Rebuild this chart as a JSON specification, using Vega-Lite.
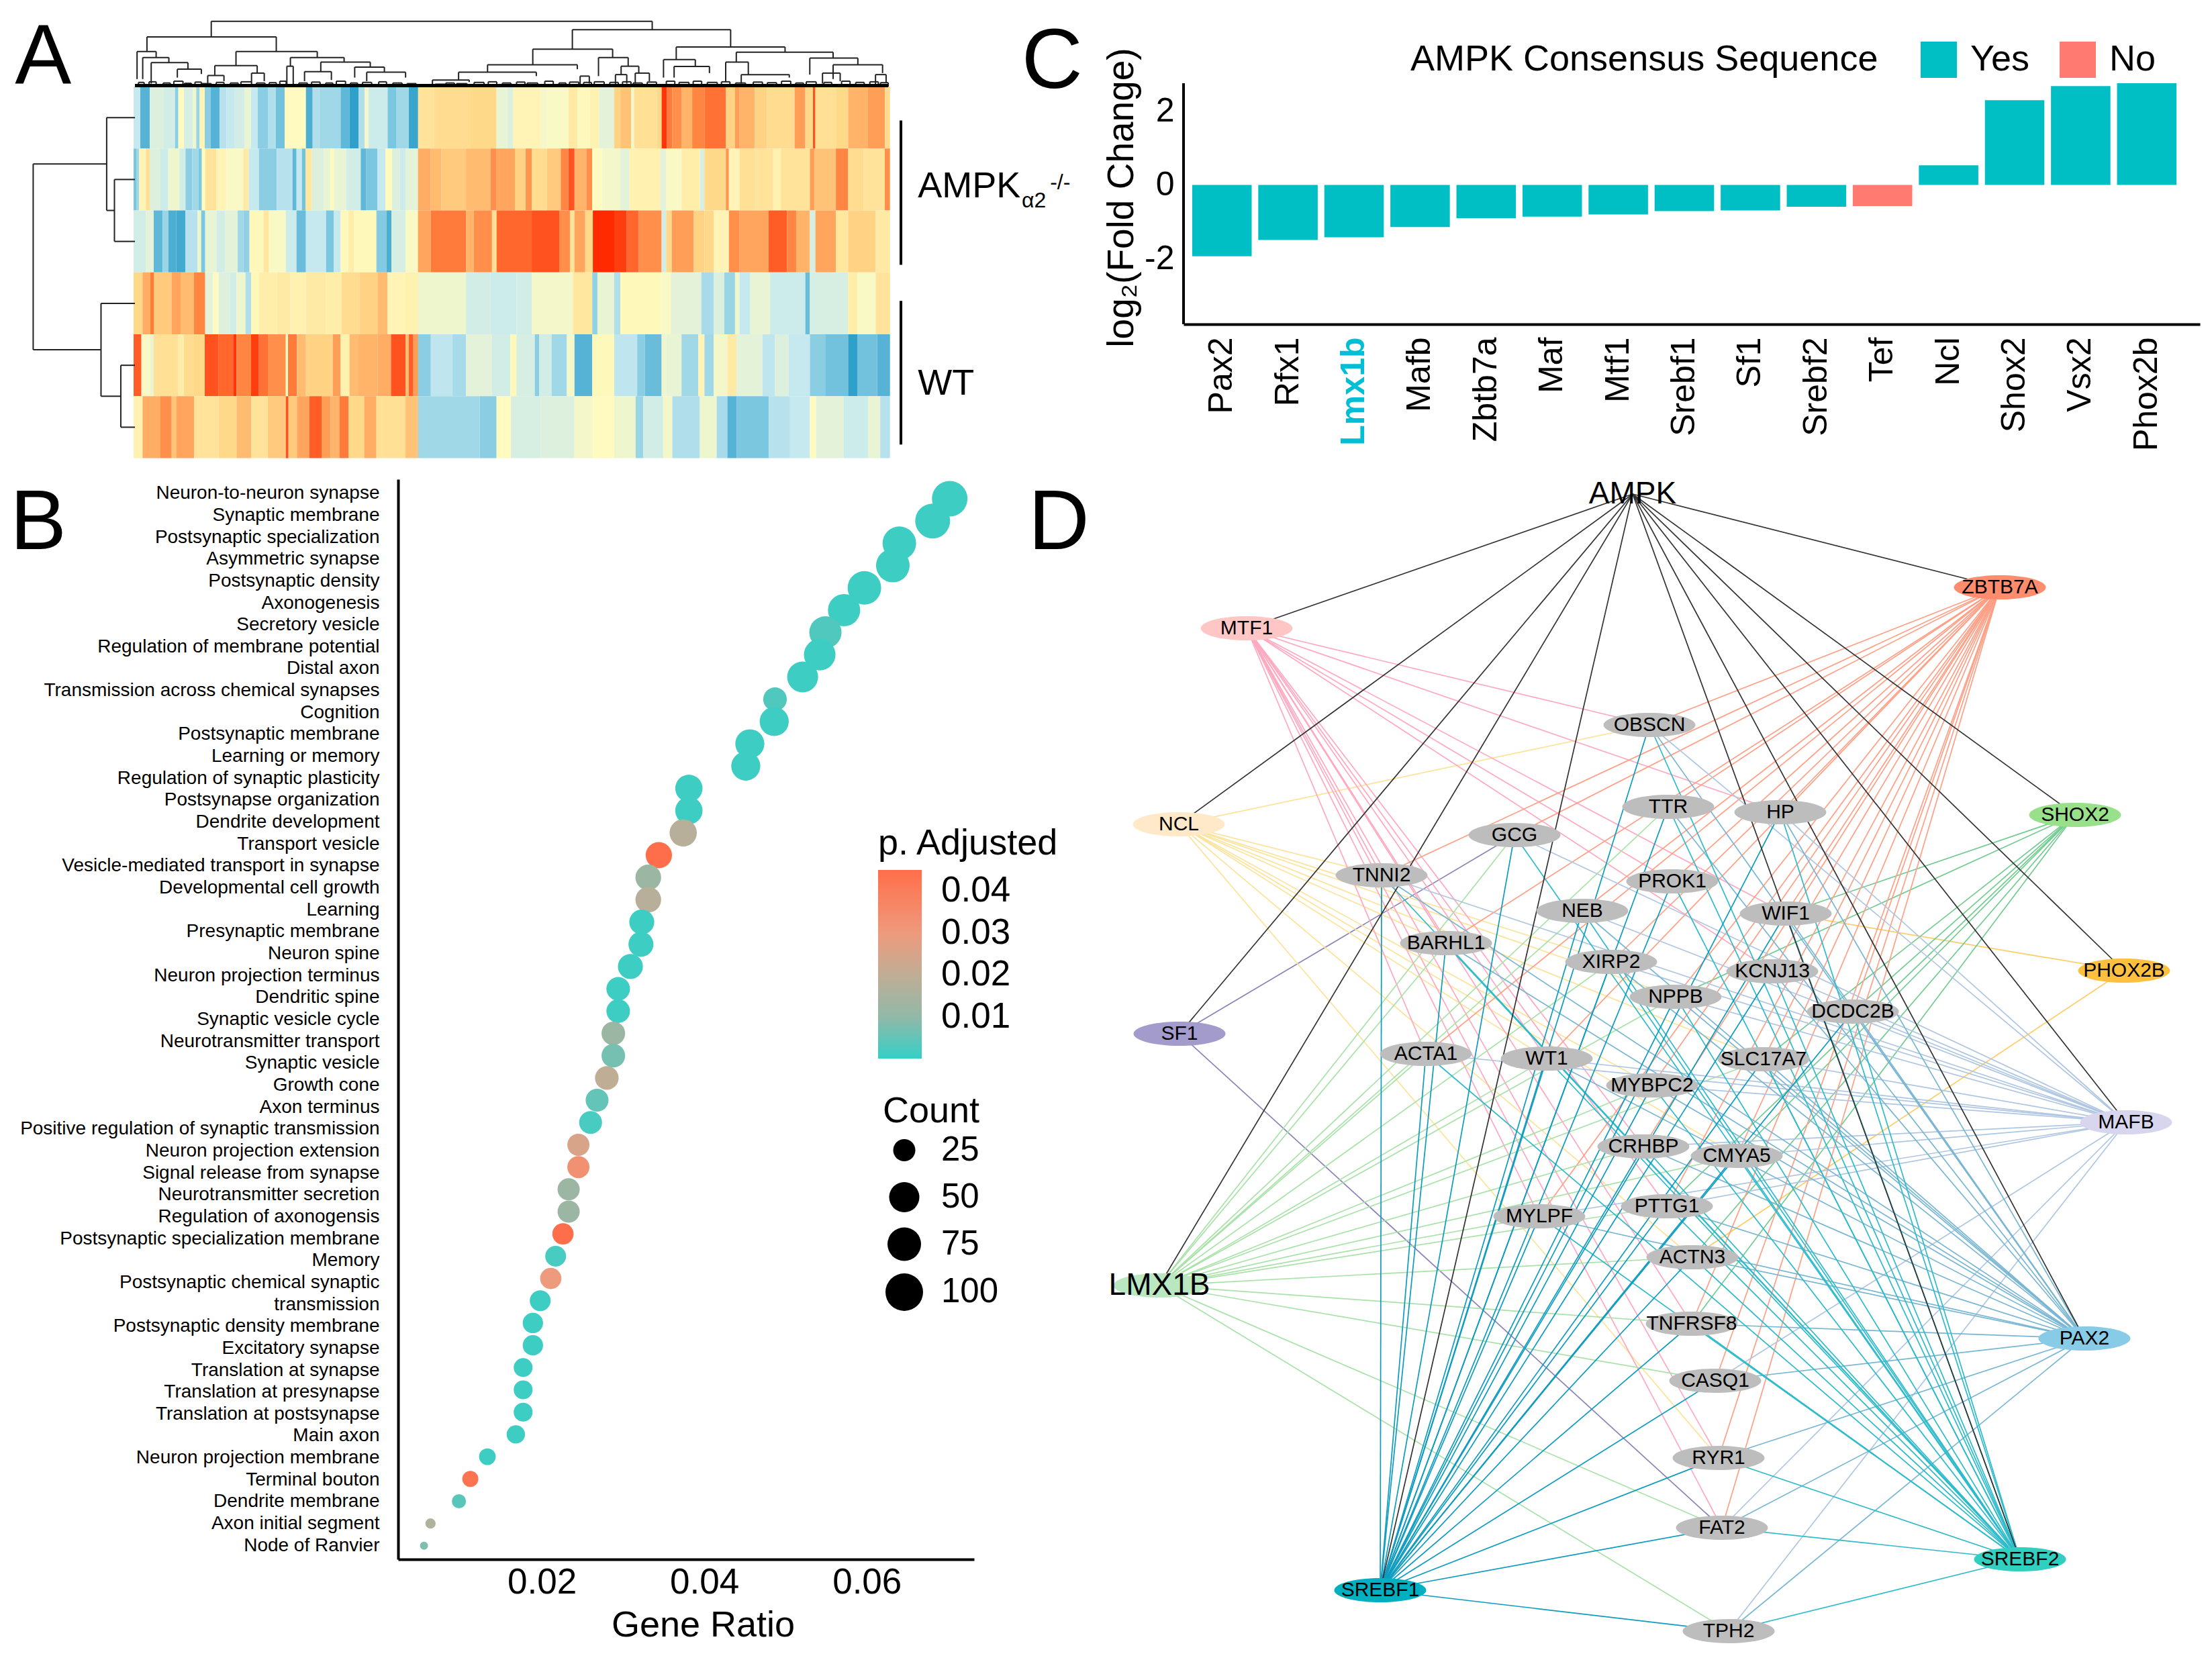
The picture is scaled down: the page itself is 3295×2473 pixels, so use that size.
{"$schema":"https://vega.github.io/schema/vega-lite/v6.json","background":"white","padding":{"left":14,"top":23,"right":0,"bottom":0},"config":{"font":"Liberation Sans","view":{"stroke":null},"axis":{"labelColor":"black","titleColor":"black","domainColor":"black","grid":false,"ticks":false},"legend":{"labelColor":"black","titleColor":"black"}},
"datasets":{
"heat":[
{"r":0,"p":0,"a":0,"b":30,"v":-1},{"r":0,"p":0,"a":30,"b":72,"v":-2.4},{"r":0,"p":0,"a":72,"b":135,"v":-0.6},{"r":0,"p":0,"a":135,"b":185,"v":-0.8},{"r":0,"p":0,"a":185,"b":200,"v":-1.8},{"r":0,"p":0,"a":200,"b":225,"v":0},{"r":0,"p":0,"a":225,"b":265,"v":-0.7},{"r":0,"p":0,"a":265,"b":280,"v":-0.3},{"r":0,"p":0,"a":280,"b":295,"v":-1.6},{"r":0,"p":0,"a":295,"b":318,"v":0.2},{"r":0,"p":0,"a":318,"b":345,"v":-1.8},{"r":0,"p":0,"a":345,"b":385,"v":-2.4},{"r":0,"p":0,"a":385,"b":415,"v":-1.2},{"r":0,"p":0,"a":415,"b":450,"v":-1},{"r":0,"p":0,"a":450,"b":495,"v":-0.8},{"r":0,"p":0,"a":495,"b":525,"v":-0.4},{"r":0,"p":0,"a":525,"b":555,"v":-1},{"r":0,"p":0,"a":555,"b":600,"v":-1.8},{"r":0,"p":0,"a":600,"b":635,"v":-1.3},{"r":0,"p":0,"a":635,"b":675,"v":-2.1},{"r":0,"p":0,"a":675,"b":770,"v":0},{"r":0,"p":0,"a":770,"b":800,"v":-2.5},{"r":0,"p":0,"a":800,"b":830,"v":-1.3},{"r":0,"p":0,"a":830,"b":925,"v":-1.5},{"r":0,"p":0,"a":925,"b":965,"v":-2.3},{"r":0,"p":0,"a":965,"b":1005,"v":-2.8},{"r":0,"p":0,"a":1005,"b":1032,"v":-1.3},{"r":0,"p":0,"a":1032,"b":1050,"v":-0.2},{"r":0,"p":0,"a":1050,"b":1135,"v":-0.9},{"r":0,"p":0,"a":1135,"b":1175,"v":-2},{"r":0,"p":0,"a":1175,"b":1230,"v":-1.5},{"r":0,"p":0,"a":1230,"b":1272,"v":-2.7},
{"r":0,"p":1,"a":8,"b":60,"v":0.7},{"r":0,"p":1,"a":60,"b":180,"v":0.9},{"r":0,"p":1,"a":180,"b":265,"v":1},{"r":0,"p":1,"a":265,"b":300,"v":-0.4},{"r":0,"p":1,"a":300,"b":320,"v":-0.6},{"r":0,"p":1,"a":320,"b":410,"v":0.2},{"r":0,"p":1,"a":410,"b":430,"v":-0.2},{"r":0,"p":1,"a":430,"b":500,"v":-0.1},{"r":0,"p":1,"a":500,"b":530,"v":0.5},{"r":0,"p":1,"a":530,"b":570,"v":0.1},{"r":0,"p":1,"a":570,"b":600,"v":0.3},{"r":0,"p":1,"a":600,"b":650,"v":-0.5},{"r":0,"p":1,"a":650,"b":670,"v":1.1},{"r":0,"p":1,"a":670,"b":705,"v":1.3},{"r":0,"p":1,"a":705,"b":715,"v":-0.2},{"r":0,"p":1,"a":715,"b":790,"v":0.8},{"r":0,"p":1,"a":790,"b":805,"v":1},{"r":0,"p":1,"a":805,"b":822,"v":2.9},{"r":0,"p":1,"a":822,"b":840,"v":2.2},{"r":0,"p":1,"a":840,"b":870,"v":2},{"r":0,"p":1,"a":870,"b":905,"v":1.5},{"r":0,"p":1,"a":905,"b":945,"v":2.1},{"r":0,"p":1,"a":945,"b":1015,"v":2.3},{"r":0,"p":1,"a":1015,"b":1045,"v":1.1},{"r":0,"p":1,"a":1045,"b":1060,"v":1.8},{"r":0,"p":1,"a":1060,"b":1110,"v":1.5},{"r":0,"p":1,"a":1110,"b":1150,"v":1.1},{"r":0,"p":1,"a":1150,"b":1240,"v":0.9},{"r":0,"p":1,"a":1240,"b":1275,"v":1.8},{"r":0,"p":1,"a":1275,"b":1300,"v":1},{"r":0,"p":1,"a":1300,"b":1308,"v":2.6},{"r":0,"p":1,"a":1308,"b":1375,"v":0.8},{"r":0,"p":1,"a":1375,"b":1415,"v":1},{"r":0,"p":1,"a":1415,"b":1480,"v":1.5},{"r":0,"p":1,"a":1480,"b":1535,"v":1.8},{"r":0,"p":1,"a":1535,"b":1552,"v":0.9},
{"r":1,"p":0,"a":0,"b":12,"v":-2},{"r":1,"p":0,"a":12,"b":25,"v":-1.5},{"r":1,"p":0,"a":25,"b":55,"v":0.2},{"r":1,"p":0,"a":55,"b":72,"v":0.8},{"r":1,"p":0,"a":72,"b":120,"v":-0.6},{"r":1,"p":0,"a":120,"b":155,"v":-0.9},{"r":1,"p":0,"a":155,"b":205,"v":-0.3},{"r":1,"p":0,"a":205,"b":232,"v":-0.8},{"r":1,"p":0,"a":232,"b":262,"v":-1.8},{"r":1,"p":0,"a":262,"b":290,"v":-1.5},{"r":1,"p":0,"a":290,"b":305,"v":-2},{"r":1,"p":0,"a":305,"b":320,"v":0},{"r":1,"p":0,"a":320,"b":370,"v":0.7},{"r":1,"p":0,"a":370,"b":415,"v":0.2},{"r":1,"p":0,"a":415,"b":490,"v":-0.1},{"r":1,"p":0,"a":490,"b":515,"v":0.5},{"r":1,"p":0,"a":515,"b":560,"v":-1},{"r":1,"p":0,"a":560,"b":640,"v":-1.8},{"r":1,"p":0,"a":640,"b":710,"v":-1.2},{"r":1,"p":0,"a":710,"b":728,"v":-2.3},{"r":1,"p":0,"a":728,"b":752,"v":-1},{"r":1,"p":0,"a":752,"b":768,"v":-2.1},{"r":1,"p":0,"a":768,"b":797,"v":0.6},{"r":1,"p":0,"a":797,"b":850,"v":-0.6},{"r":1,"p":0,"a":850,"b":880,"v":-0.4},{"r":1,"p":0,"a":880,"b":895,"v":0.1},{"r":1,"p":0,"a":895,"b":950,"v":-0.4},{"r":1,"p":0,"a":950,"b":1015,"v":-0.8},{"r":1,"p":0,"a":1015,"b":1040,"v":-2.3},{"r":1,"p":0,"a":1040,"b":1090,"v":-2},{"r":1,"p":0,"a":1090,"b":1125,"v":-1},{"r":1,"p":0,"a":1125,"b":1155,"v":0},{"r":1,"p":0,"a":1155,"b":1190,"v":-0.6},{"r":1,"p":0,"a":1190,"b":1215,"v":-0.9},{"r":1,"p":0,"a":1215,"b":1272,"v":-0.5},
{"r":1,"p":1,"a":8,"b":50,"v":1.6},{"r":1,"p":1,"a":50,"b":85,"v":1.4},{"r":1,"p":1,"a":85,"b":165,"v":1.2},{"r":1,"p":1,"a":165,"b":245,"v":1.4},{"r":1,"p":1,"a":245,"b":265,"v":2},{"r":1,"p":1,"a":265,"b":325,"v":1.7},{"r":1,"p":1,"a":325,"b":360,"v":1.1},{"r":1,"p":1,"a":360,"b":380,"v":1.9},{"r":1,"p":1,"a":380,"b":430,"v":0.9},{"r":1,"p":1,"a":430,"b":475,"v":1.2},{"r":1,"p":1,"a":475,"b":500,"v":2.1},{"r":1,"p":1,"a":500,"b":520,"v":2.6},{"r":1,"p":1,"a":520,"b":560,"v":1.5},{"r":1,"p":1,"a":560,"b":578,"v":2},{"r":1,"p":1,"a":578,"b":610,"v":0},{"r":1,"p":1,"a":610,"b":670,"v":-0.2},{"r":1,"p":1,"a":670,"b":700,"v":-0.5},{"r":1,"p":1,"a":700,"b":800,"v":0.3},{"r":1,"p":1,"a":800,"b":820,"v":-0.5},{"r":1,"p":1,"a":820,"b":870,"v":-0.1},{"r":1,"p":1,"a":870,"b":930,"v":0.4},{"r":1,"p":1,"a":930,"b":945,"v":-0.7},{"r":1,"p":1,"a":945,"b":1015,"v":1},{"r":1,"p":1,"a":1015,"b":1025,"v":1.9},{"r":1,"p":1,"a":1025,"b":1060,"v":0.2},{"r":1,"p":1,"a":1060,"b":1110,"v":0.8},{"r":1,"p":1,"a":1110,"b":1170,"v":0.7},{"r":1,"p":1,"a":1170,"b":1195,"v":0.3},{"r":1,"p":1,"a":1195,"b":1290,"v":0.7},{"r":1,"p":1,"a":1290,"b":1305,"v":1.8},{"r":1,"p":1,"a":1305,"b":1375,"v":1.3},{"r":1,"p":1,"a":1375,"b":1415,"v":2.1},{"r":1,"p":1,"a":1415,"b":1465,"v":0.9},{"r":1,"p":1,"a":1465,"b":1535,"v":0.7},{"r":1,"p":1,"a":1535,"b":1552,"v":2},
{"r":2,"p":0,"a":0,"b":55,"v":-0.8},{"r":2,"p":0,"a":55,"b":90,"v":-0.5},{"r":2,"p":0,"a":90,"b":130,"v":-2.3},{"r":2,"p":0,"a":130,"b":155,"v":-1.6},{"r":2,"p":0,"a":155,"b":190,"v":-2.5},{"r":2,"p":0,"a":190,"b":232,"v":-2.6},{"r":2,"p":0,"a":232,"b":285,"v":-1.2},{"r":2,"p":0,"a":285,"b":302,"v":-0.3},{"r":2,"p":0,"a":302,"b":320,"v":-2},{"r":2,"p":0,"a":320,"b":370,"v":-0.4},{"r":2,"p":0,"a":370,"b":410,"v":-0.8},{"r":2,"p":0,"a":410,"b":465,"v":-0.5},{"r":2,"p":0,"a":465,"b":490,"v":-1.5},{"r":2,"p":0,"a":490,"b":518,"v":-1.7},{"r":2,"p":0,"a":518,"b":580,"v":0.1},{"r":2,"p":0,"a":580,"b":605,"v":0.6},{"r":2,"p":0,"a":605,"b":680,"v":-0.1},{"r":2,"p":0,"a":680,"b":728,"v":-0.9},{"r":2,"p":0,"a":728,"b":770,"v":-2.2},{"r":2,"p":0,"a":770,"b":860,"v":-1},{"r":2,"p":0,"a":860,"b":895,"v":-2},{"r":2,"p":0,"a":895,"b":925,"v":-1},{"r":2,"p":0,"a":925,"b":960,"v":0.1},{"r":2,"p":0,"a":960,"b":985,"v":0.4},{"r":2,"p":0,"a":985,"b":1085,"v":0.1},{"r":2,"p":0,"a":1085,"b":1130,"v":-1.9},{"r":2,"p":0,"a":1130,"b":1152,"v":-2.5},{"r":2,"p":0,"a":1152,"b":1215,"v":-0.7},{"r":2,"p":0,"a":1215,"b":1272,"v":-0.1},
{"r":2,"p":1,"a":8,"b":50,"v":1.7},{"r":2,"p":1,"a":50,"b":165,"v":2.2},{"r":2,"p":1,"a":165,"b":190,"v":1.5},{"r":2,"p":1,"a":190,"b":250,"v":2},{"r":2,"p":1,"a":250,"b":265,"v":0.8},{"r":2,"p":1,"a":265,"b":380,"v":2.4},{"r":2,"p":1,"a":380,"b":470,"v":2.6},{"r":2,"p":1,"a":470,"b":505,"v":2},{"r":2,"p":1,"a":505,"b":520,"v":0.7},{"r":2,"p":1,"a":520,"b":555,"v":1.7},{"r":2,"p":1,"a":555,"b":580,"v":1},{"r":2,"p":1,"a":580,"b":650,"v":3},{"r":2,"p":1,"a":650,"b":690,"v":2.8},{"r":2,"p":1,"a":690,"b":730,"v":2.4},{"r":2,"p":1,"a":730,"b":805,"v":2},{"r":2,"p":1,"a":805,"b":820,"v":-0.8},{"r":2,"p":1,"a":820,"b":838,"v":1},{"r":2,"p":1,"a":838,"b":910,"v":1.8},{"r":2,"p":1,"a":910,"b":945,"v":1.1},{"r":2,"p":1,"a":945,"b":975,"v":1},{"r":2,"p":1,"a":975,"b":1025,"v":0.2},{"r":2,"p":1,"a":1025,"b":1060,"v":2},{"r":2,"p":1,"a":1060,"b":1155,"v":1.7},{"r":2,"p":1,"a":1155,"b":1215,"v":2.5},{"r":2,"p":1,"a":1215,"b":1245,"v":2.1},{"r":2,"p":1,"a":1245,"b":1290,"v":1.5},{"r":2,"p":1,"a":1290,"b":1308,"v":-0.7},{"r":2,"p":1,"a":1308,"b":1375,"v":1.7},{"r":2,"p":1,"a":1375,"b":1415,"v":0.6},{"r":2,"p":1,"a":1415,"b":1505,"v":1.1},{"r":2,"p":1,"a":1505,"b":1552,"v":0.5},
{"r":3,"p":0,"a":0,"b":40,"v":1},{"r":3,"p":0,"a":40,"b":75,"v":1.6},{"r":3,"p":0,"a":75,"b":90,"v":2.2},{"r":3,"p":0,"a":90,"b":170,"v":1.2},{"r":3,"p":0,"a":170,"b":210,"v":1.7},{"r":3,"p":0,"a":210,"b":270,"v":1.4},{"r":3,"p":0,"a":270,"b":320,"v":2.1},{"r":3,"p":0,"a":320,"b":355,"v":-0.5},{"r":3,"p":0,"a":355,"b":380,"v":0},{"r":3,"p":0,"a":380,"b":430,"v":-0.6},{"r":3,"p":0,"a":430,"b":460,"v":-0.8},{"r":3,"p":0,"a":460,"b":500,"v":-0.3},{"r":3,"p":0,"a":500,"b":525,"v":-1.3},{"r":3,"p":0,"a":525,"b":560,"v":0.1},{"r":3,"p":0,"a":560,"b":640,"v":0.4},{"r":3,"p":0,"a":640,"b":700,"v":0.5},{"r":3,"p":0,"a":700,"b":770,"v":0.3},{"r":3,"p":0,"a":770,"b":860,"v":0.5},{"r":3,"p":0,"a":860,"b":930,"v":0.4},{"r":3,"p":0,"a":930,"b":1010,"v":0.9},{"r":3,"p":0,"a":1010,"b":1090,"v":1.1},{"r":3,"p":0,"a":1090,"b":1135,"v":1.4},{"r":3,"p":0,"a":1135,"b":1215,"v":0.2},{"r":3,"p":0,"a":1215,"b":1272,"v":0.3},
{"r":3,"p":1,"a":8,"b":165,"v":-0.3},{"r":3,"p":1,"a":165,"b":245,"v":-0.8},{"r":3,"p":1,"a":245,"b":330,"v":-0.9},{"r":3,"p":1,"a":330,"b":380,"v":-0.8},{"r":3,"p":1,"a":380,"b":515,"v":-0.2},{"r":3,"p":1,"a":515,"b":578,"v":0.6},{"r":3,"p":1,"a":578,"b":595,"v":-1.7},{"r":3,"p":1,"a":595,"b":650,"v":-0.4},{"r":3,"p":1,"a":650,"b":670,"v":-1.3},{"r":3,"p":1,"a":670,"b":805,"v":0.1},{"r":3,"p":1,"a":805,"b":835,"v":-0.1},{"r":3,"p":1,"a":835,"b":935,"v":-0.5},{"r":3,"p":1,"a":935,"b":975,"v":-1.4},{"r":3,"p":1,"a":975,"b":1010,"v":-0.6},{"r":3,"p":1,"a":1010,"b":1045,"v":-1.6},{"r":3,"p":1,"a":1045,"b":1060,"v":-0.3},{"r":3,"p":1,"a":1060,"b":1095,"v":-1},{"r":3,"p":1,"a":1095,"b":1160,"v":-0.4},{"r":3,"p":1,"a":1160,"b":1275,"v":-0.9},{"r":3,"p":1,"a":1275,"b":1290,"v":-2.2},{"r":3,"p":1,"a":1290,"b":1415,"v":-0.7},{"r":3,"p":1,"a":1415,"b":1445,"v":0.4},{"r":3,"p":1,"a":1445,"b":1505,"v":-0.1},{"r":3,"p":1,"a":1505,"b":1552,"v":0.7},
{"r":4,"p":0,"a":0,"b":35,"v":2.5},{"r":4,"p":0,"a":35,"b":75,"v":-0.1},{"r":4,"p":0,"a":75,"b":90,"v":-0.4},{"r":4,"p":0,"a":90,"b":200,"v":0.8},{"r":4,"p":0,"a":200,"b":225,"v":0.4},{"r":4,"p":0,"a":225,"b":270,"v":0.9},{"r":4,"p":0,"a":270,"b":318,"v":1},{"r":4,"p":0,"a":318,"b":380,"v":2.6},{"r":4,"p":0,"a":380,"b":445,"v":2.4},{"r":4,"p":0,"a":445,"b":460,"v":2.9},{"r":4,"p":0,"a":460,"b":525,"v":2.1},{"r":4,"p":0,"a":525,"b":560,"v":2.8},{"r":4,"p":0,"a":560,"b":600,"v":2.3},{"r":4,"p":0,"a":600,"b":680,"v":2},{"r":4,"p":0,"a":680,"b":690,"v":0},{"r":4,"p":0,"a":690,"b":730,"v":2.2},{"r":4,"p":0,"a":730,"b":770,"v":1.4},{"r":4,"p":0,"a":770,"b":890,"v":1.1},{"r":4,"p":0,"a":890,"b":925,"v":1.8},{"r":4,"p":0,"a":925,"b":965,"v":0.3},{"r":4,"p":0,"a":965,"b":1005,"v":1.4},{"r":4,"p":0,"a":1005,"b":1090,"v":1.5},{"r":4,"p":0,"a":1090,"b":1150,"v":1.6},{"r":4,"p":0,"a":1150,"b":1215,"v":2.6},{"r":4,"p":0,"a":1215,"b":1230,"v":1.4},{"r":4,"p":0,"a":1230,"b":1250,"v":2.5},{"r":4,"p":0,"a":1250,"b":1272,"v":1.8},
{"r":4,"p":1,"a":8,"b":50,"v":-1.8},{"r":4,"p":1,"a":50,"b":120,"v":-1.1},{"r":4,"p":1,"a":120,"b":165,"v":-1.4},{"r":4,"p":1,"a":165,"b":250,"v":-0.5},{"r":4,"p":1,"a":250,"b":310,"v":-0.8},{"r":4,"p":1,"a":310,"b":330,"v":0.1},{"r":4,"p":1,"a":330,"b":390,"v":-0.7},{"r":4,"p":1,"a":390,"b":405,"v":-1.8},{"r":4,"p":1,"a":405,"b":445,"v":-0.8},{"r":4,"p":1,"a":445,"b":495,"v":-1.5},{"r":4,"p":1,"a":495,"b":520,"v":-0.2},{"r":4,"p":1,"a":520,"b":578,"v":-2.4},{"r":4,"p":1,"a":578,"b":650,"v":0.1},{"r":4,"p":1,"a":650,"b":725,"v":-1.1},{"r":4,"p":1,"a":725,"b":750,"v":-1.8},{"r":4,"p":1,"a":750,"b":805,"v":-2.2},{"r":4,"p":1,"a":805,"b":820,"v":-0.3},{"r":4,"p":1,"a":820,"b":870,"v":-0.4},{"r":4,"p":1,"a":870,"b":925,"v":-1.5},{"r":4,"p":1,"a":925,"b":945,"v":0.2},{"r":4,"p":1,"a":945,"b":975,"v":-1.5},{"r":4,"p":1,"a":975,"b":1020,"v":-0.2},{"r":4,"p":1,"a":1020,"b":1050,"v":0.5},{"r":4,"p":1,"a":1050,"b":1135,"v":-0.5},{"r":4,"p":1,"a":1135,"b":1175,"v":-1.1},{"r":4,"p":1,"a":1175,"b":1220,"v":-0.6},{"r":4,"p":1,"a":1220,"b":1290,"v":-1},{"r":4,"p":1,"a":1290,"b":1340,"v":-1.8},{"r":4,"p":1,"a":1340,"b":1415,"v":-2.1},{"r":4,"p":1,"a":1415,"b":1445,"v":-2.8},{"r":4,"p":1,"a":1445,"b":1510,"v":-2.1},{"r":4,"p":1,"a":1510,"b":1552,"v":-2.4},
{"r":5,"p":0,"a":0,"b":40,"v":0.3},{"r":5,"p":0,"a":40,"b":120,"v":1.6},{"r":5,"p":0,"a":120,"b":170,"v":2},{"r":5,"p":0,"a":170,"b":190,"v":1.3},{"r":5,"p":0,"a":190,"b":270,"v":1.7},{"r":5,"p":0,"a":270,"b":380,"v":0.7},{"r":5,"p":0,"a":380,"b":460,"v":1},{"r":5,"p":0,"a":460,"b":525,"v":1.4},{"r":5,"p":0,"a":525,"b":600,"v":0.7},{"r":5,"p":0,"a":600,"b":680,"v":1.2},{"r":5,"p":0,"a":680,"b":692,"v":2.6},{"r":5,"p":0,"a":692,"b":730,"v":1.2},{"r":5,"p":0,"a":730,"b":785,"v":1.7},{"r":5,"p":0,"a":785,"b":840,"v":2.5},{"r":5,"p":0,"a":840,"b":880,"v":1.8},{"r":5,"p":0,"a":880,"b":920,"v":1.5},{"r":5,"p":0,"a":920,"b":960,"v":2.2},{"r":5,"p":0,"a":960,"b":1030,"v":1},{"r":5,"p":0,"a":1030,"b":1085,"v":1.6},{"r":5,"p":0,"a":1085,"b":1215,"v":0.8},{"r":5,"p":0,"a":1215,"b":1272,"v":1.3},
{"r":5,"p":1,"a":8,"b":210,"v":-1.5},{"r":5,"p":1,"a":210,"b":265,"v":-1.8},{"r":5,"p":1,"a":265,"b":312,"v":0},{"r":5,"p":1,"a":312,"b":410,"v":-0.7},{"r":5,"p":1,"a":410,"b":520,"v":-0.6},{"r":5,"p":1,"a":520,"b":580,"v":-0.2},{"r":5,"p":1,"a":580,"b":650,"v":0},{"r":5,"p":1,"a":650,"b":720,"v":-0.3},{"r":5,"p":1,"a":720,"b":745,"v":-1.6},{"r":5,"p":1,"a":745,"b":810,"v":-0.8},{"r":5,"p":1,"a":810,"b":840,"v":-0.2},{"r":5,"p":1,"a":840,"b":930,"v":-1.3},{"r":5,"p":1,"a":930,"b":985,"v":-0.3},{"r":5,"p":1,"a":985,"b":1020,"v":-1.4},{"r":5,"p":1,"a":1020,"b":1050,"v":-2.4},{"r":5,"p":1,"a":1050,"b":1155,"v":-2},{"r":5,"p":1,"a":1155,"b":1225,"v":-1.2},{"r":5,"p":1,"a":1225,"b":1290,"v":-1},{"r":5,"p":1,"a":1290,"b":1310,"v":0},{"r":5,"p":1,"a":1310,"b":1400,"v":-0.5},{"r":5,"p":1,"a":1400,"b":1480,"v":-0.9},{"r":5,"p":1,"a":1480,"b":1520,"v":-0.4},{"r":5,"p":1,"a":1520,"b":1552,"v":-1.2}
],
"colTree":[
{"a":108,"b":732,"t":218,"ba":166,"bb":190},{"a":17,"b":200,"t":166,"ba":117,"bb":117},{"a":3,"b":30,"t":117,"ba":25,"bb":97},{"a":11,"b":48,"t":97,"ba":25,"bb":80},{"a":23,"b":75,"t":80,"ba":10,"bb":58},{"a":60,"b":94,"t":58,"ba":30,"bb":42},{"a":143,"b":258,"t":117,"ba":70,"bb":97},{"a":113,"b":173,"t":70,"ba":37,"bb":45},{"a":103,"b":126,"t":37,"ba":8,"bb":18},{"a":165,"b":183,"t":45,"ba":15,"bb":18},{"a":220,"b":296,"t":97,"ba":68,"bb":82},{"a":215,"b":224,"t":68,"ba":8,"bb":8},{"a":263,"b":333,"t":82,"ba":50,"bb":65},{"a":240,"b":278,"t":50,"ba":18,"bb":22},{"a":311,"b":353,"t":65,"ba":30,"bb":48},{"a":328,"b":383,"t":48,"ba":18,"bb":30},
{"a":619,"b":843,"t":190,"ba":125,"bb":132},{"a":563,"b":676,"t":125,"ba":73,"bb":97},{"a":499,"b":626,"t":73,"ba":48,"bb":58},{"a":458,"b":568,"t":48,"ba":22,"bb":35},{"a":421,"b":473,"t":22,"ba":8,"bb":15},{"a":656,"b":698,"t":97,"ba":35,"bb":68},{"a":630,"b":643,"t":35,"ba":8,"bb":10},{"a":688,"b":713,"t":68,"ba":40,"bb":45},{"a":680,"b":696,"t":40,"ba":8,"bb":10},{"a":708,"b":728,"t":45,"ba":10,"bb":18},{"a":766,"b":920,"t":132,"ba":90,"bb":115},{"a":851,"b":988,"t":115,"ba":82,"bb":95},{"a":955,"b":1023,"t":95,"ba":40,"bb":73},{"a":988,"b":1058,"t":73,"ba":25,"bb":45},{"a":836,"b":868,"t":82,"ba":18,"bb":40},{"a":858,"b":926,"t":40,"ba":10,"bb":30},{"a":748,"b":793,"t":90,"ba":30,"bb":67},{"a":763,"b":813,"t":67,"ba":30,"bb":45},{"a":973,"b":998,"t":45,"ba":10,"bb":18},{"a":1048,"b":1063,"t":40,"ba":8,"bb":12},
{"a":5,"b":13,"t":14,"ba":0,"bb":0},{"a":20,"b":30,"t":16,"ba":0,"bb":0},{"a":40,"b":50,"t":12,"ba":0,"bb":0},{"a":55,"b":68,"t":18,"ba":0,"bb":0},{"a":70,"b":80,"t":11,"ba":0,"bb":0},{"a":85,"b":94,"t":15,"ba":0,"bb":0},{"a":95,"b":108,"t":10,"ba":0,"bb":0},{"a":115,"b":126,"t":14,"ba":0,"bb":0},{"a":135,"b":146,"t":12,"ba":0,"bb":0},{"a":150,"b":165,"t":16,"ba":0,"bb":0},{"a":172,"b":184,"t":12,"ba":0,"bb":0},{"a":190,"b":200,"t":13,"ba":0,"bb":0},{"a":205,"b":214,"t":18,"ba":0,"bb":0},{"a":232,"b":244,"t":12,"ba":0,"bb":0},{"a":250,"b":262,"t":15,"ba":0,"bb":0},{"a":270,"b":280,"t":12,"ba":0,"bb":0},{"a":285,"b":298,"t":18,"ba":0,"bb":0},{"a":305,"b":315,"t":12,"ba":0,"bb":0},{"a":322,"b":335,"t":14,"ba":0,"bb":0},{"a":345,"b":356,"t":16,"ba":0,"bb":0},{"a":365,"b":378,"t":12,"ba":0,"bb":0},{"a":385,"b":398,"t":10,"ba":0,"bb":0},{"a":425,"b":440,"t":8,"ba":0,"bb":0},{"a":440,"b":452,"t":12,"ba":0,"bb":0},{"a":455,"b":470,"t":10,"ba":0,"bb":0},{"a":480,"b":494,"t":14,"ba":0,"bb":0},{"a":500,"b":512,"t":16,"ba":0,"bb":0},{"a":520,"b":532,"t":12,"ba":0,"bb":0},{"a":540,"b":552,"t":15,"ba":0,"bb":0},{"a":555,"b":570,"t":12,"ba":0,"bb":0},{"a":580,"b":592,"t":18,"ba":0,"bb":0},{"a":600,"b":610,"t":12,"ba":0,"bb":0},{"a":615,"b":628,"t":15,"ba":0,"bb":0},{"a":635,"b":646,"t":14,"ba":0,"bb":0},{"a":650,"b":664,"t":16,"ba":0,"bb":0},{"a":672,"b":684,"t":14,"ba":0,"bb":0},{"a":690,"b":702,"t":16,"ba":0,"bb":0},{"a":705,"b":718,"t":12,"ba":0,"bb":0},{"a":725,"b":738,"t":15,"ba":0,"bb":0},{"a":752,"b":764,"t":18,"ba":0,"bb":0},{"a":770,"b":784,"t":14,"ba":0,"bb":0},{"a":790,"b":802,"t":18,"ba":0,"bb":0},{"a":810,"b":824,"t":14,"ba":0,"bb":0},{"a":830,"b":842,"t":16,"ba":0,"bb":0},{"a":850,"b":864,"t":12,"ba":0,"bb":0},{"a":875,"b":888,"t":15,"ba":0,"bb":0},{"a":895,"b":908,"t":13,"ba":0,"bb":0},{"a":915,"b":928,"t":18,"ba":0,"bb":0},{"a":935,"b":946,"t":12,"ba":0,"bb":0},{"a":950,"b":964,"t":16,"ba":0,"bb":0},{"a":975,"b":986,"t":14,"ba":0,"bb":0},{"a":1000,"b":1012,"t":18,"ba":0,"bb":0},{"a":1020,"b":1032,"t":14,"ba":0,"bb":0},{"a":1040,"b":1052,"t":16,"ba":0,"bb":0},{"a":1055,"b":1066,"t":13,"ba":0,"bb":0}
],
"rowTree":[{"t":-144,"a":1.25,"b":4.25,"xa":-40,"xb":-48},{"t":-40,"a":0.5,"b":2,"xa":0,"xb":-29},{"t":-29,"a":1.5,"b":2.5,"xa":0,"xb":0},{"t":-48,"a":3.5,"b":5,"xa":0,"xb":-20},{"t":-20,"a":4.5,"b":5.5,"xa":0,"xb":0}],
"bars":[{"gene":"Pax2","lfc":-1.93,"c":"Yes"},{"gene":"Rfx1","lfc":-1.49,"c":"Yes"},{"gene":"Lmx1b","lfc":-1.42,"c":"Yes"},{"gene":"Mafb","lfc":-1.14,"c":"Yes"},{"gene":"Zbtb7a","lfc":-0.9,"c":"Yes"},{"gene":"Maf","lfc":-0.86,"c":"Yes"},{"gene":"Mtf1","lfc":-0.8,"c":"Yes"},{"gene":"Srebf1","lfc":-0.71,"c":"Yes"},{"gene":"Sf1","lfc":-0.69,"c":"Yes"},{"gene":"Srebf2","lfc":-0.59,"c":"Yes"},{"gene":"Tef","lfc":-0.575,"c":"No"},{"gene":"Ncl","lfc":0.53,"c":"Yes"},{"gene":"Shox2","lfc":2.29,"c":"Yes"},{"gene":"Vsx2","lfc":2.67,"c":"Yes"},{"gene":"Phox2b","lfc":2.75,"c":"Yes"}],
"dots":[{"term":"Neuron-to-neuron synapse","ratio":0.0702,"count":87,"p":0.001},{"term":"Synaptic membrane","ratio":0.0681,"count":83,"p":0.001},{"term":"Postsynaptic specialization","ratio":0.064,"count":75,"p":0.001},{"term":"Asymmetric synapse","ratio":0.0632,"count":75,"p":0.001},{"term":"Postsynaptic density","ratio":0.0597,"count":75,"p":0.001},{"term":"Axonogenesis","ratio":0.0572,"count":65,"p":0.001},{"term":"Secretory vesicle","ratio":0.0549,"count":65,"p":0.003},{"term":"Regulation of membrane potential","ratio":0.0542,"count":60,"p":0.001},{"term":"Distal axon","ratio":0.0521,"count":55,"p":0.001},{"term":"Transmission across chemical synapses","ratio":0.0487,"count":29,"p":0.003},{"term":"Cognition","ratio":0.0486,"count":46,"p":0.001},{"term":"Postsynaptic membrane","ratio":0.0456,"count":46,"p":0.001},{"term":"Learning or memory","ratio":0.0451,"count":46,"p":0.001},{"term":"Regulation of synaptic plasticity","ratio":0.0381,"count":40,"p":0.001},{"term":"Postsynapse organization","ratio":0.0381,"count":40,"p":0.001},{"term":"Dendrite development","ratio":0.0374,"count":40,"p":0.018},{"term":"Transport vesicle","ratio":0.0344,"count":37,"p":0.045},{"term":"Vesicle-mediated transport in synapse","ratio":0.0331,"count":35,"p":0.012},{"term":"Developmental cell growth","ratio":0.0331,"count":35,"p":0.018},{"term":"Learning","ratio":0.0323,"count":33,"p":0.001},{"term":"Presynaptic membrane","ratio":0.0322,"count":33,"p":0.001},{"term":"Neuron spine","ratio":0.0309,"count":33,"p":0.001},{"term":"Neuron projection terminus","ratio":0.0294,"count":29,"p":0.001},{"term":"Dendritic spine","ratio":0.0294,"count":29,"p":0.001},{"term":"Synaptic vesicle cycle","ratio":0.0288,"count":29,"p":0.012},{"term":"Neurotransmitter transport","ratio":0.0288,"count":29,"p":0.007},{"term":"Synaptic vesicle","ratio":0.028,"count":29,"p":0.02},{"term":"Growth cone","ratio":0.0268,"count":27,"p":0.005},{"term":"Axon terminus","ratio":0.026,"count":27,"p":0.002},{"term":"Positive regulation of synaptic transmission","ratio":0.0245,"count":25,"p":0.025},{"term":"Neuron projection extension","ratio":0.0245,"count":25,"p":0.033},{"term":"Signal release from synapse","ratio":0.0233,"count":25,"p":0.012},{"term":"Neurotransmitter secretion","ratio":0.0233,"count":25,"p":0.012},{"term":"Regulation of axonogensis","ratio":0.0226,"count":23,"p":0.045},{"term":"Postsynaptic specialization membrane","ratio":0.0217,"count":22,"p":0.002},{"term":"Memory","ratio":0.0211,"count":23,"p":0.03},{"term":"Postsynaptic chemical synaptic transmission","ratio":0.0198,"count":22,"p":0.001},{"term":"Postsynaptic density membrane","ratio":0.0189,"count":21,"p":0.001},{"term":"Excitatory synapse","ratio":0.0189,"count":21,"p":0.001},{"term":"Translation at synapse","ratio":0.0177,"count":18,"p":0.001},{"term":"Translation at presynapse","ratio":0.0177,"count":18,"p":0.001},{"term":"Translation at postsynapse","ratio":0.0177,"count":18,"p":0.001},{"term":"Main axon","ratio":0.0168,"count":17,"p":0.001},{"term":"Neuron projection membrane","ratio":0.0133,"count":14,"p":0.001},{"term":"Terminal bouton","ratio":0.0112,"count":13,"p":0.043},{"term":"Dendrite membrane","ratio":0.0098,"count":10,"p":0.004},{"term":"Axon initial segment","ratio":0.0063,"count":5,"p":0.017},{"term":"Node of Ranvier","ratio":0.0055,"count":3,"p":0.008}],
"lines":[{"line":"Neuron-to-neuron synapse"},{"line":"Synaptic membrane"},{"line":"Postsynaptic specialization"},{"line":"Asymmetric synapse"},{"line":"Postsynaptic density"},{"line":"Axonogenesis"},{"line":"Secretory vesicle"},{"line":"Regulation of membrane potential"},{"line":"Distal axon"},{"line":"Transmission across chemical synapses"},{"line":"Cognition"},{"line":"Postsynaptic membrane"},{"line":"Learning or memory"},{"line":"Regulation of synaptic plasticity"},{"line":"Postsynapse organization"},{"line":"Dendrite development"},{"line":"Transport vesicle"},{"line":"Vesicle-mediated transport in synapse"},{"line":"Developmental cell growth"},{"line":"Learning"},{"line":"Presynaptic membrane"},{"line":"Neuron spine"},{"line":"Neuron projection terminus"},{"line":"Dendritic spine"},{"line":"Synaptic vesicle cycle"},{"line":"Neurotransmitter transport"},{"line":"Synaptic vesicle"},{"line":"Growth cone"},{"line":"Axon terminus"},{"line":"Positive regulation of synaptic transmission"},{"line":"Neuron projection extension"},{"line":"Signal release from synapse"},{"line":"Neurotransmitter secretion"},{"line":"Regulation of axonogensis"},{"line":"Postsynaptic specialization membrane"},{"line":"Memory"},{"line":"Postsynaptic chemical synaptic"},{"line":"transmission"},{"line":"Postsynaptic density membrane"},{"line":"Excitatory synapse"},{"line":"Translation at synapse"},{"line":"Translation at presynapse"},{"line":"Translation at postsynapse"},{"line":"Main axon"},{"line":"Neuron projection membrane"},{"line":"Terminal bouton"},{"line":"Dendrite membrane"},{"line":"Axon initial segment"},{"line":"Node of Ranvier"}],
"nodes":[{"name":"AMPK","lx":79.7,"ly":3.6,"g":"AMPK"},{"name":"MTF1","lx":22.2,"ly":23.6,"g":"MTF1"},{"name":"ZBTB7A","lx":134.4,"ly":17.5,"g":"ZBTB7A"},{"name":"OBSCN","lx":82.2,"ly":38,"g":"target"},{"name":"NCL","lx":12.1,"ly":52.8,"g":"NCL"},{"name":"TTR","lx":85,"ly":50.2,"g":"target"},{"name":"HP","lx":101.7,"ly":51,"g":"target"},{"name":"SHOX2","lx":145.6,"ly":51.4,"g":"SHOX2"},{"name":"GCG","lx":62.1,"ly":54.4,"g":"target"},{"name":"TNNI2","lx":42.3,"ly":60.4,"g":"target"},{"name":"PROK1","lx":85.6,"ly":61.3,"g":"target"},{"name":"NEB","lx":72.2,"ly":65.7,"g":"target"},{"name":"WIF1","lx":102.5,"ly":66.1,"g":"target"},{"name":"BARHL1","lx":51.9,"ly":70.5,"g":"target"},{"name":"XIRP2","lx":76.5,"ly":73.3,"g":"target"},{"name":"KCNJ13","lx":100.5,"ly":74.7,"g":"target"},{"name":"PHOX2B","lx":152.9,"ly":74.6,"g":"PHOX2B"},{"name":"NPPB","lx":86.1,"ly":78.5,"g":"target"},{"name":"DCDC2B","lx":112.5,"ly":80.7,"g":"target"},{"name":"SF1","lx":12.2,"ly":84,"g":"SF1"},{"name":"ACTA1","lx":48.9,"ly":87,"g":"target"},{"name":"WT1","lx":66.9,"ly":87.7,"g":"target"},{"name":"SLC17A7","lx":99.2,"ly":87.8,"g":"target"},{"name":"MYBPC2","lx":82.6,"ly":91.7,"g":"target"},{"name":"MAFB","lx":153.2,"ly":97.2,"g":"MAFB"},{"name":"CRHBP","lx":81.3,"ly":100.8,"g":"target"},{"name":"CMYA5","lx":95.2,"ly":102.2,"g":"target"},{"name":"PTTG1","lx":84.8,"ly":109.7,"g":"target"},{"name":"MYLPF","lx":65.8,"ly":111.2,"g":"target"},{"name":"ACTN3","lx":88.6,"ly":117.3,"g":"target"},{"name":"LMX1B","lx":9.2,"ly":121.5,"g":"LMX1B"},{"name":"TNFRSF8","lx":88.5,"ly":127.2,"g":"target"},{"name":"PAX2","lx":147,"ly":129.4,"g":"PAX2"},{"name":"CASQ1","lx":92,"ly":135.7,"g":"target"},{"name":"RYR1","lx":92.5,"ly":147.2,"g":"target"},{"name":"FAT2","lx":93,"ly":157.6,"g":"target"},{"name":"SREBF2","lx":137.4,"ly":162.3,"g":"SREBF2"},{"name":"SREBF1","lx":42.1,"ly":166.9,"g":"SREBF1"},{"name":"TPH2","lx":94,"ly":173,"g":"target"}],
"edges":[
{"s":"SF1","t":"GCG"},{"s":"SF1","t":"FAT2"},{"s":"PHOX2B","t":"WIF1"},{"s":"PHOX2B","t":"ACTN3"},
{"s":"NCL","t":"OBSCN"},{"s":"NCL","t":"TNNI2"},{"s":"NCL","t":"BARHL1"},{"s":"NCL","t":"NPPB"},{"s":"NCL","t":"XIRP2"},{"s":"NCL","t":"MYBPC2"},{"s":"NCL","t":"CMYA5"},{"s":"NCL","t":"ACTN3"},{"s":"NCL","t":"RYR1"},{"s":"NCL","t":"WT1"},{"s":"NCL","t":"SLC17A7"},
{"s":"SHOX2","t":"WIF1"},{"s":"SHOX2","t":"NPPB"},{"s":"SHOX2","t":"DCDC2B"},{"s":"SHOX2","t":"SLC17A7"},{"s":"SHOX2","t":"CMYA5"},{"s":"SHOX2","t":"PTTG1"},{"s":"SHOX2","t":"TNFRSF8"},{"s":"SHOX2","t":"ACTN3"},
{"s":"MTF1","t":"OBSCN"},{"s":"MTF1","t":"HP"},{"s":"MTF1","t":"PROK1"},{"s":"MTF1","t":"WIF1"},{"s":"MTF1","t":"KCNJ13"},{"s":"MTF1","t":"TNNI2"},{"s":"MTF1","t":"BARHL1"},{"s":"MTF1","t":"WT1"},{"s":"MTF1","t":"ACTA1"},{"s":"MTF1","t":"CRHBP"},{"s":"MTF1","t":"MYLPF"},{"s":"MTF1","t":"PTTG1"},{"s":"MTF1","t":"TNFRSF8"},{"s":"MTF1","t":"FAT2"},{"s":"MTF1","t":"RYR1"},
{"s":"ZBTB7A","t":"OBSCN"},{"s":"ZBTB7A","t":"TNNI2"},{"s":"ZBTB7A","t":"GCG"},{"s":"ZBTB7A","t":"BARHL1"},{"s":"ZBTB7A","t":"TTR"},{"s":"ZBTB7A","t":"NEB"},{"s":"ZBTB7A","t":"PROK1"},{"s":"ZBTB7A","t":"XIRP2"},{"s":"ZBTB7A","t":"KCNJ13"},{"s":"ZBTB7A","t":"NPPB"},{"s":"ZBTB7A","t":"WT1"},{"s":"ZBTB7A","t":"HP"},{"s":"ZBTB7A","t":"WIF1"},{"s":"ZBTB7A","t":"DCDC2B"},{"s":"ZBTB7A","t":"ACTA1"},{"s":"ZBTB7A","t":"SLC17A7"},{"s":"ZBTB7A","t":"MYBPC2"},{"s":"ZBTB7A","t":"CRHBP"},{"s":"ZBTB7A","t":"CMYA5"},{"s":"ZBTB7A","t":"PTTG1"},{"s":"ZBTB7A","t":"MYLPF"},{"s":"ZBTB7A","t":"TNFRSF8"},{"s":"ZBTB7A","t":"CASQ1"},{"s":"ZBTB7A","t":"RYR1"},{"s":"ZBTB7A","t":"FAT2"},
{"s":"LMX1B","t":"GCG"},{"s":"LMX1B","t":"NEB"},{"s":"LMX1B","t":"XIRP2"},{"s":"LMX1B","t":"TTR"},{"s":"LMX1B","t":"NPPB"},{"s":"LMX1B","t":"MYBPC2"},{"s":"LMX1B","t":"CRHBP"},{"s":"LMX1B","t":"CMYA5"},{"s":"LMX1B","t":"ACTA1"},{"s":"LMX1B","t":"MYLPF"},{"s":"LMX1B","t":"PTTG1"},{"s":"LMX1B","t":"WT1"},{"s":"LMX1B","t":"ACTN3"},{"s":"LMX1B","t":"TNFRSF8"},{"s":"LMX1B","t":"CASQ1"},{"s":"LMX1B","t":"FAT2"},{"s":"LMX1B","t":"TPH2"},{"s":"LMX1B","t":"SLC17A7"},{"s":"LMX1B","t":"BARHL1"},
{"s":"MAFB","t":"TNNI2"},{"s":"MAFB","t":"GCG"},{"s":"MAFB","t":"OBSCN"},{"s":"MAFB","t":"ACTA1"},{"s":"MAFB","t":"WT1"},{"s":"MAFB","t":"NEB"},{"s":"MAFB","t":"XIRP2"},{"s":"MAFB","t":"MYBPC2"},{"s":"MAFB","t":"CRHBP"},{"s":"MAFB","t":"CMYA5"},{"s":"MAFB","t":"MYLPF"},{"s":"MAFB","t":"PTTG1"},{"s":"MAFB","t":"NPPB"},{"s":"MAFB","t":"KCNJ13"},{"s":"MAFB","t":"SLC17A7"},{"s":"MAFB","t":"DCDC2B"},{"s":"MAFB","t":"TPH2"},{"s":"MAFB","t":"FAT2"},{"s":"MAFB","t":"CASQ1"},{"s":"MAFB","t":"HP"},
{"s":"PAX2","t":"HP"},{"s":"PAX2","t":"TTR"},{"s":"PAX2","t":"TNNI2"},{"s":"PAX2","t":"BARHL1"},{"s":"PAX2","t":"NEB"},{"s":"PAX2","t":"XIRP2"},{"s":"PAX2","t":"KCNJ13"},{"s":"PAX2","t":"NPPB"},{"s":"PAX2","t":"WT1"},{"s":"PAX2","t":"MYBPC2"},{"s":"PAX2","t":"CRHBP"},{"s":"PAX2","t":"MYLPF"},{"s":"PAX2","t":"ACTN3"},{"s":"PAX2","t":"TNFRSF8"},{"s":"PAX2","t":"CASQ1"},{"s":"PAX2","t":"RYR1"},{"s":"PAX2","t":"FAT2"},{"s":"PAX2","t":"TPH2"},{"s":"PAX2","t":"PTTG1"},{"s":"PAX2","t":"SLC17A7"},{"s":"PAX2","t":"DCDC2B"},{"s":"PAX2","t":"WIF1"},{"s":"PAX2","t":"OBSCN"},
{"s":"SREBF2","t":"OBSCN"},{"s":"SREBF2","t":"TTR"},{"s":"SREBF2","t":"HP"},{"s":"SREBF2","t":"GCG"},{"s":"SREBF2","t":"TNNI2"},{"s":"SREBF2","t":"PROK1"},{"s":"SREBF2","t":"NEB"},{"s":"SREBF2","t":"WIF1"},{"s":"SREBF2","t":"BARHL1"},{"s":"SREBF2","t":"XIRP2"},{"s":"SREBF2","t":"KCNJ13"},{"s":"SREBF2","t":"NPPB"},{"s":"SREBF2","t":"DCDC2B"},{"s":"SREBF2","t":"WT1"},{"s":"SREBF2","t":"SLC17A7"},{"s":"SREBF2","t":"MYBPC2"},{"s":"SREBF2","t":"CRHBP"},{"s":"SREBF2","t":"CMYA5"},{"s":"SREBF2","t":"PTTG1"},{"s":"SREBF2","t":"ACTN3"},{"s":"SREBF2","t":"TNFRSF8"},{"s":"SREBF2","t":"RYR1"},{"s":"SREBF2","t":"FAT2"},{"s":"SREBF2","t":"TPH2"},{"s":"SREBF2","t":"ACTA1"},{"s":"SREBF2","t":"MYLPF"},
{"s":"SREBF1","t":"OBSCN"},{"s":"SREBF1","t":"TTR"},{"s":"SREBF1","t":"HP"},{"s":"SREBF1","t":"GCG"},{"s":"SREBF1","t":"TNNI2"},{"s":"SREBF1","t":"PROK1"},{"s":"SREBF1","t":"NEB"},{"s":"SREBF1","t":"WIF1"},{"s":"SREBF1","t":"BARHL1"},{"s":"SREBF1","t":"XIRP2"},{"s":"SREBF1","t":"KCNJ13"},{"s":"SREBF1","t":"NPPB"},{"s":"SREBF1","t":"DCDC2B"},{"s":"SREBF1","t":"ACTA1"},{"s":"SREBF1","t":"WT1"},{"s":"SREBF1","t":"SLC17A7"},{"s":"SREBF1","t":"MYBPC2"},{"s":"SREBF1","t":"CRHBP"},{"s":"SREBF1","t":"CMYA5"},{"s":"SREBF1","t":"PTTG1"},{"s":"SREBF1","t":"MYLPF"},{"s":"SREBF1","t":"ACTN3"},{"s":"SREBF1","t":"TNFRSF8"},{"s":"SREBF1","t":"CASQ1"},{"s":"SREBF1","t":"RYR1"},{"s":"SREBF1","t":"FAT2"},{"s":"SREBF1","t":"TPH2"},
{"s":"AMPK","t":"MTF1"},{"s":"AMPK","t":"NCL"},{"s":"AMPK","t":"SF1"},{"s":"AMPK","t":"LMX1B"},{"s":"AMPK","t":"SREBF1"},{"s":"AMPK","t":"SREBF2"},{"s":"AMPK","t":"PAX2"},{"s":"AMPK","t":"MAFB"},{"s":"AMPK","t":"PHOX2B"},{"s":"AMPK","t":"SHOX2"},{"s":"AMPK","t":"ZBTB7A"}
]
},
"align":"none","spacing":19,
"vconcat":[
{"align":"none","spacing":29,"hconcat":[
{"width":1016,"height":662,"layer":[
{"data":{"name":"heat"},"transform":[{"calculate":"datum.p==0?0.3167*datum.a-1.9:397.1+0.4326*datum.a","as":"g0"},{"calculate":"datum.p==0?0.3167*datum.b-1.9:397.1+0.4326*datum.b","as":"g1"},{"calculate":"datum.r+1","as":"r1"}],"mark":{"type":"rect","strokeWidth":0},"encoding":{"x":{"field":"g0","type":"quantitative","axis":null,"scale":{"domain":[372.4,1337.6],"nice":false,"zero":false}},"x2":{"field":"g1"},"y":{"field":"r","type":"quantitative","axis":null,"scale":{"domain":[-1.0514,6.124],"nice":false,"zero":false,"reverse":true}},"y2":{"field":"r1"},"color":{"field":"v","type":"quantitative","legend":null,"scale":{"domain":[-3,-2,-1,0,1,2,3],"range":["#1C96C4","#7CC7E0","#C6E9F0","#FFFBC0","#FFD98A","#FF8F4A","#FF2A00"],"interpolate":"rgb"}}}},
{"data":{"name":"colTree"},"transform":[{"calculate":"-datum.t/206.67","as":"yt"}],"mark":{"type":"rule","color":"#222","strokeWidth":2},"encoding":{"x":{"field":"a","type":"quantitative"},"x2":{"field":"b"},"y":{"field":"yt","type":"quantitative"}}},
{"data":{"name":"colTree"},"transform":[{"calculate":"-datum.t/206.67","as":"yt"},{"calculate":"-datum.ba/206.67","as":"yb"}],"mark":{"type":"rule","color":"#222","strokeWidth":2},"encoding":{"x":{"field":"a","type":"quantitative"},"y":{"field":"yt","type":"quantitative"},"y2":{"field":"yb"}}},
{"data":{"name":"colTree"},"transform":[{"calculate":"-datum.t/206.67","as":"yt"},{"calculate":"-datum.bb/206.67","as":"yb"}],"mark":{"type":"rule","color":"#222","strokeWidth":2},"encoding":{"x":{"field":"b","type":"quantitative"},"y":{"field":"yt","type":"quantitative"},"y2":{"field":"yb"}}},
{"data":{"values":[{}]},"mark":{"type":"rule","color":"black","strokeWidth":5},"encoding":{"x":{"datum":0},"x2":{"datum":1066},"y":{"datum":-0.015}}},
{"data":{"name":"rowTree"},"mark":{"type":"rule","color":"#222","strokeWidth":2},"encoding":{"x":{"field":"t","type":"quantitative"},"y":{"field":"a","type":"quantitative"},"y2":{"field":"b"}}},
{"data":{"name":"rowTree"},"mark":{"type":"rule","color":"#222","strokeWidth":2},"encoding":{"x":{"field":"t","type":"quantitative"},"x2":{"field":"xa"},"y":{"field":"a","type":"quantitative"}}},
{"data":{"name":"rowTree"},"mark":{"type":"rule","color":"#222","strokeWidth":2},"encoding":{"x":{"field":"t","type":"quantitative"},"x2":{"field":"xb"},"y":{"field":"b","type":"quantitative"}}},
{"data":{"values":[{}]},"mark":{"type":"rule","color":"black","strokeWidth":4},"encoding":{"x":{"datum":1084},"y":{"datum":0.547},"y2":{"datum":2.879}}},
{"data":{"values":[{}]},"mark":{"type":"rule","color":"black","strokeWidth":4},"encoding":{"x":{"datum":1084},"y":{"datum":3.46},"y2":{"datum":5.78}}},
{"data":{"values":[{}]},"mark":{"type":"text","align":"left","baseline":"middle","fontSize":54,"text":"AMPK"},"encoding":{"x":{"datum":1108},"y":{"datum":1.62}}},
{"data":{"values":[{}]},"mark":{"type":"text","align":"left","baseline":"middle","fontSize":32,"text":"α2"},"encoding":{"x":{"datum":1255},"y":{"datum":1.84}}},
{"data":{"values":[{}]},"mark":{"type":"text","align":"left","baseline":"middle","fontSize":32,"text":"-/-"},"encoding":{"x":{"datum":1295},"y":{"datum":1.55}}},
{"data":{"values":[{}]},"mark":{"type":"text","align":"left","baseline":"middle","fontSize":54,"text":"WT"},"encoding":{"x":{"datum":1108},"y":{"datum":4.8}}},
{"data":{"values":[{}]},"mark":{"type":"text","align":"center","baseline":"alphabetic","fontSize":126,"text":"A"},"encoding":{"x":{"datum":-130},"y":{"datum":-0.054}}},
{"data":{"values":[{}]},"mark":{"type":"text","align":"center","baseline":"alphabetic","fontSize":126,"text":"C"},"encoding":{"x":{"datum":1298},"y":{"datum":0.02}}}
]},
{"width":1514,"height":451,"layer":[
{"data":{"name":"bars"},"mark":{"type":"bar"},"encoding":{"x":{"field":"gene","type":"nominal","sort":null,"scale":{"type":"band","paddingInner":0.1,"paddingOuter":0.243,"align":0.27},"axis":{"title":null,"labelAngle":-90,"labelFontSize":50,"labelPadding":19,"domainWidth":4,"labelColor":{"condition":{"test":"datum.value==='Lmx1b'","value":"#00BFD4"},"value":"black"},"labelFontWeight":{"condition":{"test":"datum.value==='Lmx1b'","value":"bold"},"value":"normal"},"labelOverlap":false}},"y":{"field":"lfc","type":"quantitative","scale":{"domain":[-3.77,4.42],"nice":false,"zero":false},"axis":{"title":"log₂(Fold Change)","values":[-2,0,2],"labelExpr":"''+datum.value","domain":false,"labelFontSize":50,"labelPadding":14,"titleFontSize":55,"titleFontWeight":"normal","titleAngle":-90,"titleBaseline":"middle","titleAlign":"center","titleX":-93,"titleY":262}},"color":{"field":"c","type":"nominal","scale":{"domain":["Yes","No"],"range":["#00BFC4","#FF7A70"]},"legend":{"title":"AMPK Consensus Sequence","orient":"none","legendX":338,"legendY":30,"direction":"horizontal","titleOrient":"left","titleFontSize":54,"titleFontWeight":"normal","titlePadding":63,"labelFontSize":54,"symbolType":"square","symbolSize":2916,"symbolStrokeWidth":0,"labelOffset":20,"columnPadding":44,"titleBaseline":"middle","titleLimit":1000}}}},
{"data":{"values":[{}]},"mark":{"type":"rule","color":"black","strokeWidth":4},"encoding":{"x":{"value":0},"y":{"datum":2.75},"y2":{"datum":-3.77}}}
]}
]},
{"align":"none","spacing":12,"hconcat":[
{"width":858,"height":1609,"resolve":{"scale":{"y":"independent"}},"layer":[
{"data":{"name":"lines"},"mark":{"type":"point","opacity":0},"encoding":{"y":{"field":"line","type":"nominal","sort":null,"scale":{"type":"point","padding":0.635,"align":0.5},"axis":{"title":null,"labelFontSize":28,"labelPadding":28,"domainWidth":4,"labelLimit":1000,"labelOverlap":false}}}},
{"data":{"name":"dots"},"mark":{"type":"point","filled":true,"opacity":1},"encoding":{"x":{"field":"ratio","type":"quantitative","scale":{"domain":[0.00231,0.0732],"nice":false,"zero":false},"axis":{"title":"Gene Ratio","values":[0.02,0.04,0.06],"format":".2f","labelFontSize":53,"labelPadding":8,"domainWidth":4,"titleFontSize":54,"titleFontWeight":"normal","titleX":454,"titleY":98,"titleBaseline":"middle","titleAlign":"center"}},"y":{"field":"term","type":"nominal","sort":null,"axis":null,"scale":{"type":"point","padding":0.74,"align":0.59}},"size":{"field":"count","type":"quantitative","scale":{"domain":[3,25,50,75,100],"range":[144,1089,2025,2500,3136]},"legend":{"title":"Count","orient":"none","legendX":722,"legendY":1597,"values":[25,50,75,100],"titleFontSize":54,"titleFontWeight":"normal","labelFontSize":51,"symbolFillColor":"black","symbolStrokeWidth":0,"symbolOpacity":1,"rowPadding":18,"labelOffset":27,"symbolOffset":4}},"color":{"field":"p","type":"quantitative","scale":{"domain":[0,0.01,0.02,0.03,0.045],"range":["#35CFC6","#92B9A8","#C0AD95","#EE9A7C","#FF6E4A"],"interpolate":"rgb"},"legend":{"title":"p. Adjusted","type":"gradient","orient":"none","legendX":715,"legendY":1198,"values":[0.01,0.02,0.03,0.04],"format":".2f","gradientLength":281,"gradientThickness":65,"titleFontSize":54,"titleFontWeight":"normal","labelFontSize":53,"labelOffset":29,"titlePadding":12,"titleLimit":1000,"labelOverlap":false}}}},
{"data":{"values":[{}]},"mark":{"type":"text","align":"center","baseline":"alphabetic","fontSize":126,"text":"B"},"encoding":{"x":{"datum":-0.04198,"scale":{"domain":[0.00231,0.0732],"nice":false,"zero":false}},"y":{"value":104}}},
{"data":{"values":[{}]},"mark":{"type":"text","align":"center","baseline":"alphabetic","fontSize":126,"text":"D"},"encoding":{"x":{"datum":0.08364,"scale":{"domain":[0.00231,0.0732],"nice":false,"zero":false}},"y":{"value":104}}}
]},
{"width":1660,"height":1759,"resolve":{"scale":{"color":"independent"}},"layer":[
{"data":{"name":"edges"},"transform":[{"lookup":"s","from":{"data":{"name":"nodes"},"key":"name","fields":["lx","ly"]},"as":["x1","y1"]},{"lookup":"t","from":{"data":{"name":"nodes"},"key":"name","fields":["lx","ly"]},"as":["x2","y2"]}],"mark":{"type":"rule","strokeWidth":1.7},"encoding":{"x":{"field":"x1","type":"quantitative","axis":null,"scale":{"domain":[0,166],"nice":false,"zero":false}},"x2":{"field":"x2"},"y":{"field":"y1","type":"quantitative","axis":null,"scale":{"domain":[1.4,177.3],"nice":false,"zero":false,"reverse":true}},"y2":{"field":"y2"},"color":{"field":"s","type":"nominal","legend":null,"scale":{"domain":["AMPK","MTF1","ZBTB7A","NCL","SHOX2","PHOX2B","SF1","MAFB","LMX1B","PAX2","SREBF2","SREBF1"],"range":["#333333","#FFA8C0","#FF9F85","#FDE39A","#72CC90","#FFCC66","#8A83B8","#AFC6E2","#A8E2A8","#78B6D4","#2DBBCB","#0E9BC0"]}}}},
{"data":{"name":"nodes"},"transform":[{"filter":"datum.name!=='AMPK'"}],"mark":{"type":"point","filled":true,"opacity":1,"size":18769,"shape":"M-1 0C-1 -0.145 -0.552 -0.263 0 -0.263C0.552 -0.263 1 -0.145 1 0C1 0.145 0.552 0.263 0 0.263C-0.552 0.263 -1 0.145 -1 0Z"},"encoding":{"x":{"field":"lx","type":"quantitative"},"y":{"field":"ly","type":"quantitative"},"color":{"field":"g","type":"nominal","legend":null,"scale":{"domain":["target","MTF1","ZBTB7A","NCL","SHOX2","PHOX2B","SF1","MAFB","LMX1B","PAX2","SREBF2","SREBF1"],"range":["#BDBDBD","#FFC6C6","#FF8C6C","#FFE9C8","#98E08A","#FFC040","#A39BCB","#D8D6EE","#B9E8C0","#87CBE6","#30CFBF","#00AFC0"]}}}},
{"data":{"name":"nodes"},"mark":{"type":"text","baseline":"middle","align":"center"},"encoding":{"x":{"field":"lx","type":"quantitative"},"y":{"field":"ly","type":"quantitative"},"text":{"field":"name"},"size":{"condition":{"test":"datum.name==='AMPK'||datum.name==='LMX1B'","value":46},"value":30},"color":{"value":"black"}}}
]}
]}
]}
